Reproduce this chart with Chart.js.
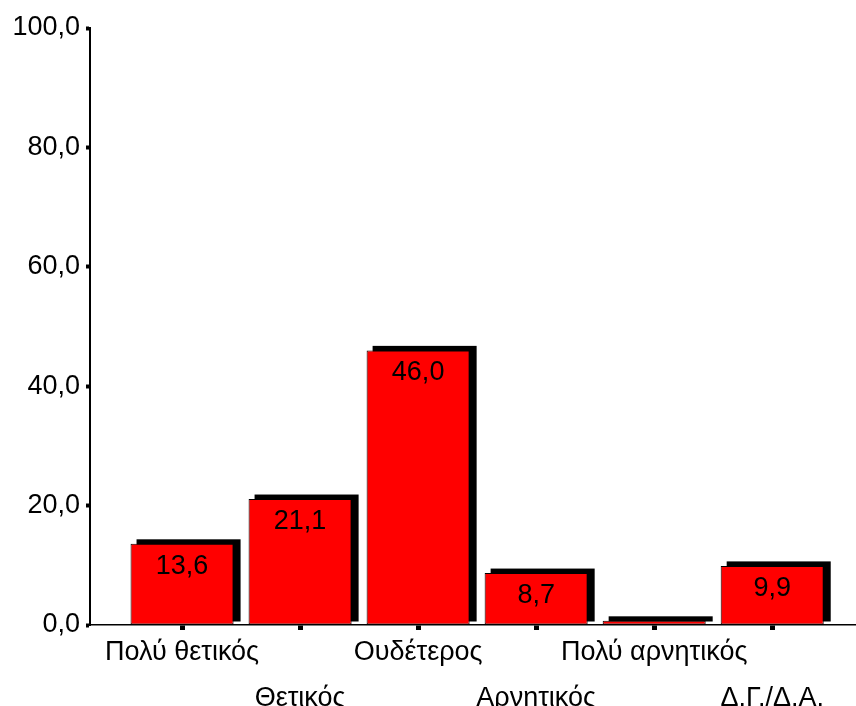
<!DOCTYPE html>
<html>
<head>
<meta charset="utf-8">
<script src="https://cdn.jsdelivr.net/npm/chart.js@4/dist/chart.umd.min.js"></script>
<style>
  body { margin: 0; background: #fff; overflow: hidden; }
</style>
</head>
<body>
<canvas id="miChart" width="856" height="706"></canvas>
<script>
const categories = ["Πολύ θετικός", "Θετικός", "Ουδέτερος", "Αρνητικός", "Πολύ αρνητικός", "Δ.Γ./Δ.Α."];
const values = [13.6, 21.1, 46.0, 8.7, 0.7, 9.9];
const yTicks = [0, 20, 40, 60, 80, 100];

const FONT = "'Liberation Sans', Arial, sans-serif";

function fmt(v) {
    return v.toFixed(1).replace('.', ',');
}

// black drop shadow behind each bar (up and to the right)
const shadowPlugin = {
    id: 'barShadow',
    beforeDatasetsDraw(chart) {
        let ctx = chart.ctx;
        ctx.save();
        ctx.fillStyle = '#000';
        chart.getDatasetMeta(0).data.forEach(function(bar) {
            let p = bar.getProps(['x', 'y', 'base', 'width'], true);
            ctx.fillRect(p.x - p.width / 2 + 6, p.y - 4.5, p.width + 1, p.base - p.y + 1.5);
        });
        ctx.restore();
    }
};

// value written inside the top of each bar
const valuePlugin = {
    id: 'barValues',
    afterDatasetsDraw(chart) {
        let ctx = chart.ctx;
        ctx.save();
        ctx.fillStyle = '#000';
        ctx.font = '27px ' + FONT;
        ctx.textAlign = 'center';
        ctx.textBaseline = 'alphabetic';
        chart.getDatasetMeta(0).data.forEach(function(bar, i) {
            if (values[i] < 3) return;
            let p = bar.getProps(['x', 'y'], true);
            ctx.fillText(fmt(values[i]), p.x, p.y + 30);
        });
        ctx.restore();
    }
};

let ctx = document.getElementById('miChart').getContext('2d');
let miChart = new Chart(ctx, {
    type: 'bar',
    data: {
        datasets: [{
            data: categories.map(function(c, i) { return {x: i, y: values[i]}; }),
            backgroundColor: '#ff0000',
            borderColor: '#000',
            borderWidth: 1,
            borderSkipped: false,
            barPercentage: 0.873,
            categoryPercentage: 1
        }]
    },
    options: {
        responsive: false,
        animation: false,
        events: [],
        layout: { padding: { top: 28, left: 0, right: 0, bottom: 0 } },
        plugins: {
            legend: { display: false },
            tooltip: { enabled: false }
        },
        scales: {
            x: {
                type: 'linear',
                offset: false,
                min: -0.78,
                max: 5.71,
                grid: { offset: false, drawOnChartArea: false, tickLength: 5, tickWidth: 5, tickColor: '#000' },
                border: { color: '#000', width: 1.5 },
                afterBuildTicks: function(scale) {
                    scale.ticks = categories.map(function(c, i) { return {value: i}; });
                },
                ticks: {
                    autoSkip: false,
                    maxRotation: 0,
                    minRotation: 0,
                    padding: 0,
                    color: '#000',
                    font: { family: FONT, size: 27, lineHeight: 1.7 },
                    callback: function(value, index) {
                        return index % 2 ? ['', categories[index]] : categories[index];
                    }
                },
                afterFit: function(scale) { scale.height = 81; }
            },
            y: {
                min: 0,
                max: 100,
                grid: { drawOnChartArea: false, tickLength: 4, tickWidth: 4, tickColor: '#000' },
                border: { color: '#000', width: 2 },
                afterBuildTicks: function(scale) {
                    scale.ticks = yTicks.map(function(v) { return {value: v}; });
                },
                ticks: {
                    padding: 6,
                    color: '#000',
                    font: { family: FONT, size: 27 },
                    callback: function(value) { return fmt(value); }
                },
                afterFit: function(scale) { scale.width = 90; }
            }
        }
    },
    plugins: [shadowPlugin, valuePlugin]
});
</script>
</body>
</html>
